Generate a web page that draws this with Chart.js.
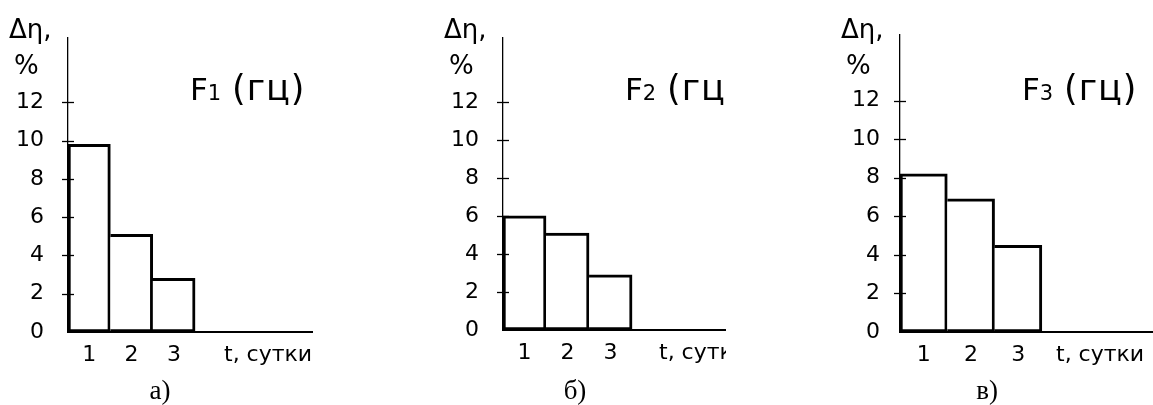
<!DOCTYPE html>
<html>
<head>
<meta charset="utf-8">
<script src="https://cdn.jsdelivr.net/npm/chart.js@4"></script>
<style>
  html, body { margin: 0; padding: 0; background: #fff; }
  body { width: 1153px; height: 405px; position: relative; overflow: hidden; }
  canvas { position: absolute; top: 0; }
</style>
</head>
<body>
<canvas id="chart-a" width="330" height="405" style="left:0px"></canvas>
<canvas id="chart-b" width="346" height="405" style="left:380px"></canvas>
<canvas id="chart-c" width="373" height="405" style="left:780px"></canvas>
<script>
// values: loss of efficiency (%) per day
const days = [1, 2, 3]
const lossF1 = [9.8, 5.1, 2.8]
const lossF2 = [6.0, 5.1, 2.9]
const lossF3 = [8.2, 6.9, 4.5]
const yTicks = [0, 2, 4, 6, 8, 10, 12]
const freqIndex = ['1', '2', '3']
const panelLetters = ['а)', 'б)', 'в)']
const yName = 'Δη,'
const yUnit = '%'
const xName = 't, сутки'
const freqUnit = '(гц)'

// where each panel sits on the page
const layout = [
  { id: 'chart-a', left: 0,   width: 330, axisX: 68,  axisEnd: 312,  top: 35, zeroY: 332, xMax: 6.26, yPad: 24, letterDx: 92 },
  { id: 'chart-b', left: 380, width: 346, axisX: 503, axisEnd: 725,  top: 34, zeroY: 330, xMax: 5.66, yPad: 24, letterDx: 72 },
  { id: 'chart-c', left: 780, width: 373, axisX: 900, axisEnd: 1153, top: 35, zeroY: 332, xMax: 5.85, yPad: 20, letterDx: 87 }
]
const series = [lossF1, lossF2, lossF3]

const panelText = {
  id: 'panelText',
  afterDatasetsDraw(chart, args, opts) {
    const { ctx, chartArea: area, scales: { y } } = chart
    ctx.save()
    // tick marks crossing the y axis
    ctx.strokeStyle = '#000'
    ctx.lineWidth = 1.3
    yTicks.forEach(v => {
      if (v === 0) return
      const py = Math.round(y.getPixelForValue(v)) + 0.5
      ctx.beginPath()
      ctx.moveTo(area.left - 6, py)
      ctx.lineTo(area.left + 6, py)
      ctx.stroke()
    })

    ctx.fillStyle = '#000'
    ctx.textAlign = 'left'
    ctx.textBaseline = 'alphabetic'
    ctx.font = '26px "DejaVu Sans"'
    ctx.fillText(yName, area.left - 59, 38)
    ctx.fillText(yUnit, area.left - 54, 74)

    // F with subscript, then unit
    const fx = area.left + 122
    ctx.font = '31px "DejaVu Sans"'
    ctx.fillText('F', fx, 100)
    const fw = ctx.measureText('F').width
    ctx.font = '21px "DejaVu Sans"'
    ctx.fillText(opts.sub, fx + fw, 100)
    ctx.font = '35px "DejaVu Sans"'
    if ('letterSpacing' in ctx) ctx.letterSpacing = '1px'
    ctx.fillText(freqUnit, fx + 42, 100)
    if ('letterSpacing' in ctx) ctx.letterSpacing = '0px'

    // x axis name, on the tick label line
    ctx.font = '22px "DejaVu Sans"'
    ctx.textBaseline = 'middle'
    ctx.fillText(xName, area.left + 156, area.bottom + 23)

    // panel letter
    ctx.font = '27px "Liberation Serif"'
    ctx.textAlign = 'center'
    ctx.textBaseline = 'alphabetic'
    ctx.fillText(opts.letter, area.left + opts.letterDx, 399)
    ctx.restore()
  }
}

const charts = layout.map((p, k) => new Chart(document.getElementById(p.id), {
  type: 'bar',
  data: {
    datasets: [{
      data: days.map((d, i) => ({ x: d, y: series[k][i] })),
      backgroundColor: '#fff',
      borderColor: '#000',
      borderWidth: c => ({ top: 3, right: 3, bottom: 3, left: c.dataIndex === 0 ? 3 : 0 }),
      borderSkipped: false,
      barPercentage: 1,
      categoryPercentage: 1
    }]
  },
  options: {
    responsive: false,
    animation: false,
    events: [],
    layout: {
      autoPadding: false,
      padding: { left: 0, top: p.top, right: p.width - (p.axisEnd - p.left), bottom: 0 }
    },
    plugins: {
      legend: { display: false },
      tooltip: { enabled: false },
      panelText: { sub: freqIndex[k], letter: panelLetters[k], letterDx: p.letterDx }
    },
    scales: {
      x: {
        type: 'linear',
        min: 0.5,
        max: p.xMax,
        offset: false,
        afterBuildTicks: s => { s.ticks = days.map(v => ({ value: v })) },
        afterFit: s => { s.height = 405 - p.zeroY },
        grid: { display: false, drawTicks: false },
        border: { display: true, color: '#000', width: 2 },
        ticks: {
          color: '#000',
          padding: 10,
          font: { family: 'DejaVu Sans', size: 22 },
          callback: v => String(v)
        }
      },
      y: {
        min: 0,
        max: 15.4,
        afterBuildTicks: s => { s.ticks = yTicks.map(v => ({ value: v })) },
        afterFit: s => { s.width = p.axisX - p.left },
        grid: { display: false, drawTicks: false },
        border: { display: true, color: '#000', width: 1.3 },
        ticks: {
          color: '#000',
          padding: p.yPad,
          font: { family: 'DejaVu Sans', size: 22 }
        }
      }
    }
  },
  plugins: [panelText]
}))
</script>
</body>
</html>
